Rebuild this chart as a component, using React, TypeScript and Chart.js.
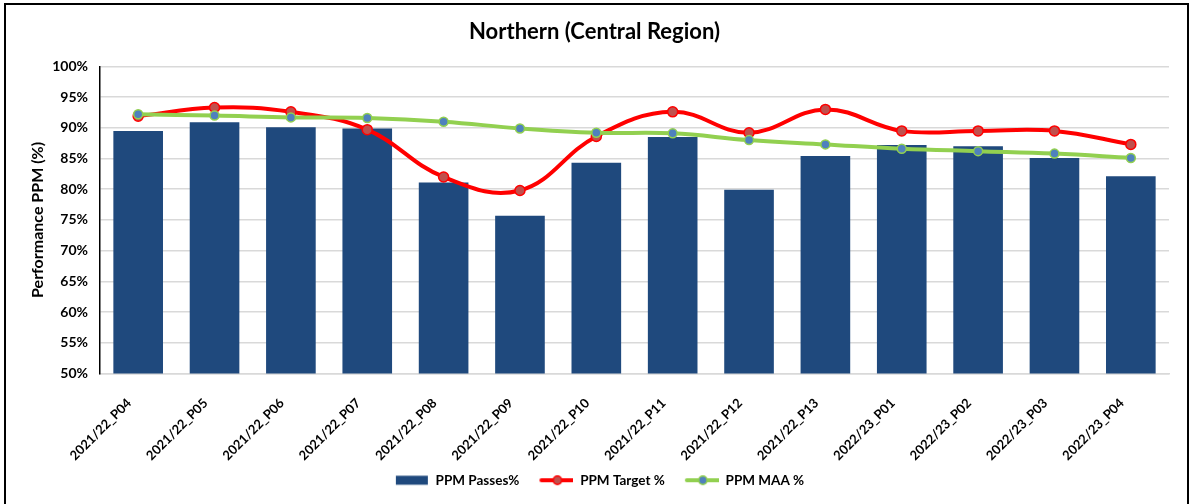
import React, { useEffect, useRef } from 'react';
import { Chart, registerables } from 'chart.js';

Chart.register(...registerables);

const FONT = 'Lato, "Open Sans", sans-serif';

const title = 'Northern (Central Region)';
const yAxisTitle = 'Performance PPM (%)';

const categories = [
  '2021/22_P04', '2021/22_P05', '2021/22_P06', '2021/22_P07', '2021/22_P08',
  '2021/22_P09', '2021/22_P10', '2021/22_P11', '2021/22_P12', '2021/22_P13',
  '2022/23_P01', '2022/23_P02', '2022/23_P03', '2022/23_P04',
];

const passesLabel = 'PPM Passes%';
const passes = [89.5, 90.9, 90.1, 89.9, 81.1, 75.7, 84.3, 88.5, 79.9, 85.4, 87.2, 87.0, 85.1, 82.1];

const targetLabel = 'PPM Target %';
const target = [91.9, 93.3, 92.6, 89.7, 82.0, 79.8, 88.6, 92.6, 89.2, 93.0, 89.5, 89.5, 89.5, 87.3];

const maaLabel = 'PPM MAA %';
const maa = [92.2, 92.0, 91.7, 91.6, 91.0, 89.9, 89.2, 89.1, 88.0, 87.3, 86.6, 86.2, 85.8, 85.1];

const yMin = 50;
const yMax = 100;
const yStep = 5;

const BAR = '#1F497D';
const RED = '#FF0000';
const RED_PT = '#C0504D';
const GREEN = '#92D050';
const GREEN_PT = '#4F81BD';

// legend glyph images: 44px wide, content sits in the right-hand 34px
function legendImage(kind: 'bar' | 'line', line: string, fill: string, lead: number): HTMLCanvasElement {
  const c = document.createElement('canvas');
  c.width = 44;
  c.height = 12;
  const g = c.getContext('2d')!;
  const x0 = lead;
  if (kind === 'bar') {
    g.fillStyle = fill;
    g.fillRect(x0 + 1, 1.5, 32, 9);
  } else {
    g.strokeStyle = line;
    g.lineWidth = 4;
    g.lineCap = 'round';
    g.beginPath();
    g.moveTo(x0 + 2, 6);
    g.lineTo(x0 + 34, 6);
    g.stroke();
    g.beginPath();
    g.arc(x0 + 18, 6, 4.2, 0, Math.PI * 2);
    g.fillStyle = fill;
    g.fill();
    g.lineWidth = 1.5;
    g.strokeStyle = line;
    g.stroke();
  }
  return c;
}

export default function App() {
  const ref = useRef<HTMLCanvasElement>(null);

  useEffect(() => {
    document.body.style.margin = '0';
    const images = [
      legendImage('bar', BAR, BAR, 10),
      legendImage('line', RED, RED_PT, 10),
      legendImage('line', GREEN, GREEN_PT, 10),
    ];
    const chart = new Chart(ref.current!, {
      type: 'bar',
      data: {
        labels: categories,
        datasets: [
          {
            type: 'bar',
            label: passesLabel,
            data: passes,
            backgroundColor: BAR,
            barPercentage: 0.65,
            categoryPercentage: 1,
            order: 3,
          },
          {
            type: 'line',
            label: targetLabel,
            data: target,
            borderColor: RED,
            borderWidth: 4,
            tension: 0.4,
            pointRadius: 5,
            pointBackgroundColor: RED_PT,
            pointBorderColor: RED,
            pointBorderWidth: 1.5,
            order: 2,
          },
          {
            type: 'line',
            label: maaLabel,
            data: maa,
            borderColor: GREEN,
            borderWidth: 4,
            tension: 0.4,
            pointRadius: 4.5,
            pointBackgroundColor: GREEN_PT,
            pointBorderColor: GREEN,
            pointBorderWidth: 1.5,
            order: 1,
          },
        ] as any,
      },
      options: {
        responsive: false,
        animation: false,
        layout: { padding: { left: 20, right: 20, top: 6, bottom: 7 } },
        plugins: {
          title: {
            display: true,
            text: title,
            color: '#000',
            font: { family: FONT, size: 22, weight: 'bold' },
            padding: { top: 13, bottom: 21 },
          },
          legend: {
            position: 'bottom',
            labels: {
              usePointStyle: true,
              pointStyleWidth: 44,
              padding: 10,
              color: '#000',
              font: { family: FONT, size: 13.5, weight: 'bold' },
              generateLabels: (ch: any) =>
                ch.data.datasets.map((ds: any, i: number) => ({
                  text: ds.label,
                  pointStyle: images[i],
                  datasetIndex: i,
                  hidden: !ch.isDatasetVisible(i),
                  fontColor: '#000',
                  lineWidth: 0,
                  strokeStyle: 'rgba(0,0,0,0)',
                  fillStyle: 'rgba(0,0,0,0)',
                })),
            },
          },
          tooltip: { enabled: false },
        },
        scales: {
          x: {
            grid: { display: false },
            border: { color: '#d9d9d9', width: 1.5 },
            ticks: {
              color: '#000',
              font: { family: FONT, size: 13, weight: 'bold' },
              minRotation: 45,
              maxRotation: 45,
              padding: 14,
              labelOffset: -9,
            },
            afterFit: (s: any) => {
              s.height = 90;
            },
          },
          y: {
            min: yMin,
            max: yMax,
            ticks: {
              stepSize: yStep,
              color: '#000',
              font: { family: FONT, size: 14, weight: 'bold' },
              padding: 12,
              callback: (v: any) => v + '%',
            },
            grid: { color: '#d9d9d9', lineWidth: 1.5, drawTicks: false },
            border: { color: '#000', width: 1.5 },
            title: {
              display: true,
              text: yAxisTitle,
              color: '#000',
              font: { family: FONT, size: 16, weight: 'bold' },
              padding: { top: 8, bottom: 0 },
            },
            afterFit: (s: any) => {
              s.width = 80;
            },
          },
        },
      } as any,
    });
    return () => chart.destroy();
  }, []);

  return (
    <div style={{ position: 'relative', width: 1189, height: 504, overflow: 'hidden', background: '#fff' }}>
      <canvas ref={ref} width={1189} height={504} style={{ position: 'absolute', left: 0, top: 0 }} />
      <div
        style={{
          position: 'absolute',
          left: 4,
          top: 3,
          width: 1181,
          height: 520,
          border: '2px solid #000',
          pointerEvents: 'none',
        }}
      />
    </div>
  );
}
